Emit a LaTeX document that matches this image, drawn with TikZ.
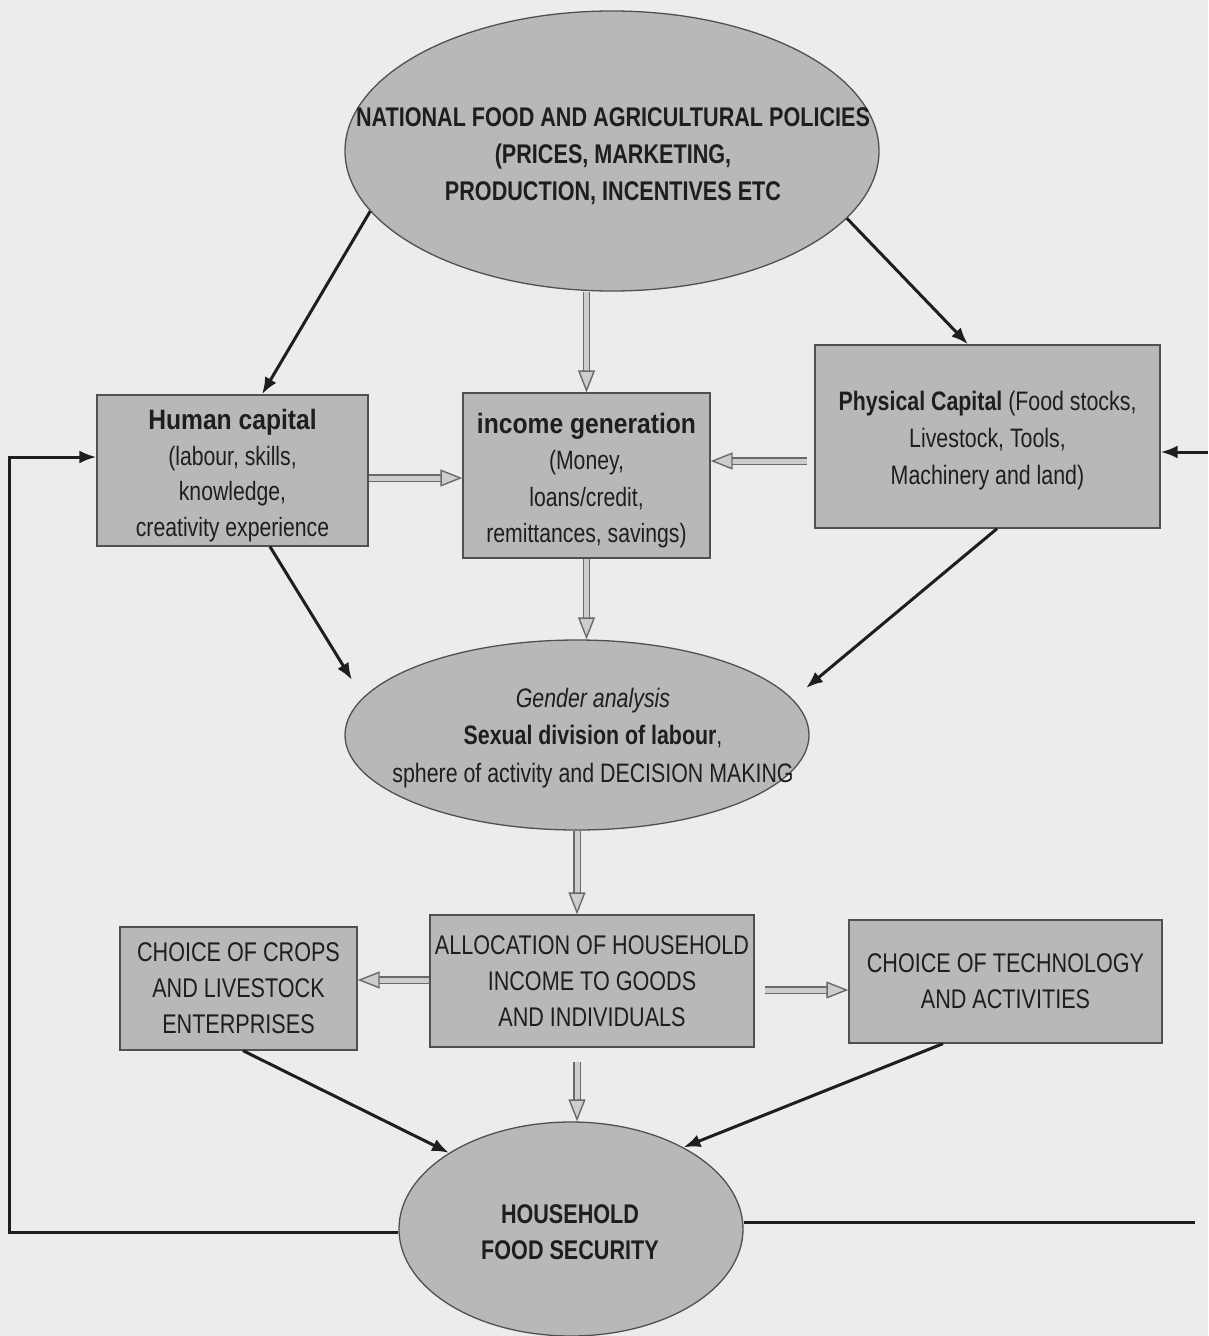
\documentclass[tikz,border=0pt]{standalone}
\usepackage{fontspec}
\setmainfont{Liberation Sans}[FakeStretch=0.8]
\newfontfamily\titlefont{Liberation Sans}[FakeStretch=0.88]
\usetikzlibrary{arrows.meta,shapes.geometric}

\definecolor{paper}{RGB}{236,236,236}
\definecolor{boxgray}{RGB}{184,184,184}
\definecolor{edgegray}{RGB}{80,80,80}
\definecolor{inkgray}{RGB}{30,30,30}
\definecolor{pipegray}{RGB}{205,205,205}

\tikzset{
  box/.style={draw=edgegray, line width=1.3pt, fill=boxgray, inner sep=0pt,
    text=inkgray, align=center, font=\fontsize{26.5}{35.5}\selectfont},
  capsbox/.style={box, font=\fontsize{27}{36}\selectfont},
  oval/.style={ellipse, draw=edgegray, line width=1.3pt, fill=boxgray, inner sep=0pt},
  ovaltext/.style={text=inkgray, align=center, inner sep=0pt},
  hollow/.style={double distance=5pt, line width=1.4pt, draw=edgegray!85,
    double=pipegray, -{Triangle[open,length=22pt,width=17pt,fill=pipegray]}},
  link/.style={line width=3pt, draw=inkgray, -{Latex[length=17pt,width=13pt]}},
  loop/.style={line width=3pt, draw=inkgray},
}
\newcommand{\boxtitle}[1]{{\titlefont\bfseries\fontsize{28}{36}\selectfont\rule{0pt}{30pt}#1}}

\begin{document}
\begin{tikzpicture}[x=1pt,y=-1pt]
\fill[paper] (0,0) rectangle (1208,1336);
\useasboundingbox (0,0) rectangle (1208,1336);

% the ovals
\node[oval, minimum width=534pt, minimum height=280pt] (policy) at (612,151) {};
\node[ovaltext, font=\bfseries\fontsize{27}{37}\selectfont] (policytxt) at (613,156)
  {NATIONAL FOOD AND AGRICULTURAL POLICIES\\(PRICES, MARKETING,\\PRODUCTION, INCENTIVES ETC};
\node[oval, minimum width=464pt, minimum height=190pt] (gender) at (577,735) {};
\node[ovaltext, font=\fontsize{26.7}{37.5}\selectfont] (gendertxt) at (593,738)
  {\itshape Gender analysis\\\bfseries Sexual division of labour\mdseries,\\sphere of activity and DECISION MAKING};
\node[oval, minimum width=344pt, minimum height=214pt] (household) at (571,1229) {};
\node[ovaltext, font=\bfseries\fontsize{27}{36}\selectfont] (householdtxt) at (570,1232)
  {HOUSEHOLD\\FOOD SECURITY};

% the boxes
\node[box, minimum width=271pt, minimum height=151pt] (human) at (232.5,470.5)
  {\boxtitle{Human capital}\\(labour, skills,\\knowledge,\\creativity experience};
\node[box, minimum width=247pt, minimum height=165pt, font=\fontsize{26.5}{36.5}\selectfont]
  (income) at (586.5,475.5)
  {\boxtitle{income generation}\\(Money,\\loans/credit,\\remittances, savings)};
\node[box, minimum width=345pt, minimum height=183pt, font=\fontsize{26.7}{37}\selectfont]
  (physical) at (987.5,436.5)
  {\rule{0pt}{28pt}{\bfseries Physical Capital} (Food stocks,\\Livestock, Tools,\\Machinery and land)};
\node[capsbox, minimum width=237pt, minimum height=123pt] (crops) at (238.5,988.5)
  {CHOICE OF CROPS\\AND LIVESTOCK\\ENTERPRISES};
\node[capsbox, minimum width=324pt, minimum height=132pt] (alloc) at (592,981)
  {ALLOCATION OF HOUSEHOLD\\INCOME TO GOODS\\AND INDIVIDUALS};
\node[capsbox, minimum width=313pt, minimum height=123pt] (tech) at (1005.5,981.5)
  {CHOICE OF TECHNOLOGY\\AND ACTIVITIES};

% free ends
\coordinate (humantip) at (352,680);
\coordinate (physicaltip) at (806,688);
\coordinate (physout) at (807,461);
\coordinate (allocout) at (765,990);
\coordinate (alloclow) at (577,1062);
\coordinate (leftbend) at (9,1232);
\coordinate (topbend) at (9,457);
\coordinate (rightend) at (1195,1222);
\coordinate (rightin) at (1208,452);

% hollow arrows
\draw[hollow] (income.north |- policy.south) -- (income.north);
\draw[hollow] (human.east |- 0,478) -- (income.west |- 0,478);
\draw[hollow] (physout) -- (income.east |- physout);
\draw[hollow] (income.south) -- (income.south |- gender.north);
\draw[hollow] (gender.south) -- (gender.south |- alloc.north);
\draw[hollow] (alloc.west |- 0,980) -- (crops.east |- 0,980);
\draw[hollow] (allocout) -- (tech.west |- allocout);
\draw[hollow] (alloclow) -- (alloclow |- household.north);

% black arrows
\draw[link] (policy.194.6) -- ([xshift=29.5pt]human.north);
\draw[link] (policy.344) -- ([xshift=-19.5pt]physical.north);
\draw[link] ([xshift=37.5pt]human.south) -- (humantip);
\draw[link] ([xshift=9.5pt]physical.south) -- (physicaltip);
\draw[link] ([xshift=4.5pt]crops.south) -- (household.148);
\draw[link] ([xshift=-62.5pt]tech.south) -- (household.36);

% feedback lines
\draw[loop] (household.west |- leftbend) -- (leftbend) -- (topbend)
  [-{Latex[length=17pt,width=13pt]}] -- (human.west |- topbend);
\draw[loop] (household.east |- rightend) -- (rightend);
\draw[link] (rightin) -- (physical.east |- rightin);
\end{tikzpicture}
\end{document}
